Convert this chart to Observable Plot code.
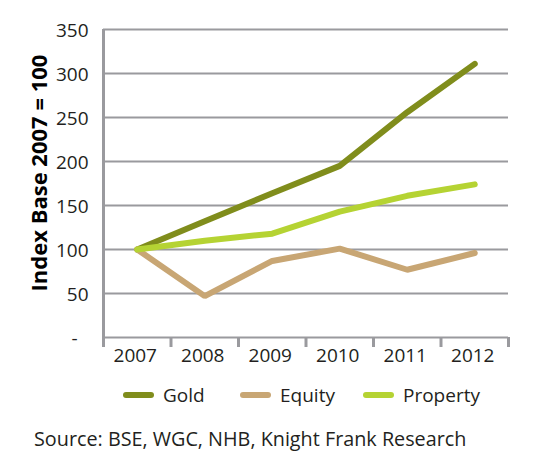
<!DOCTYPE html>
<html>
<head>
<meta charset="utf-8">
<script src="https://cdn.jsdelivr.net/npm/d3@7"></script>
<script src="https://cdn.jsdelivr.net/npm/@observablehq/plot@0.6"></script>
<style>
  html, body { margin: 0; padding: 0; background: #fff; }
  body { width: 546px; height: 458px; position: relative; font-family: "Open Sans", sans-serif; color: #231f20; overflow: hidden; }
  #chart { position: absolute; left: 0; top: 0; }
  #ytitle { position: absolute; left: 38px; top: 172.5px; transform: translate(-50%, -50%) rotate(-90deg); white-space: nowrap; font-weight: bold; font-size: 22px; color: #000; }
  #legend { position: absolute; top: 382px; left: 123px; display: flex; align-items: center; font-size: 19px; }
  .item { display: flex; align-items: center; }
  .item:nth-child(1) { width: 117px; }
  .item:nth-child(2) { width: 123px; }
  .sw { width: 31px; height: 6px; border-radius: 3px; margin-right: 9px; }
  #caption { position: absolute; left: 34px; top: 425px; font-size: 19.8px; white-space: nowrap; }
</style>
</head>
<body>
<div id="chart"></div>
<div id="ytitle"></div>
<div id="legend"></div>
<div id="caption"></div>
<script>
const years = [2007, 2008, 2009, 2010, 2011, 2012];
const gold = [100, 132, 164, 195, 256, 311];
const equity = [100, 47, 87, 101, 77, 96];
const property = [100, 110, 118, 143, 161, 174];
const seriesNames = ["Gold", "Equity", "Property"];
const seriesColors = ["#808d1c", "#c8a674", "#b5d333"];
const yTicks = [0, 50, 100, 150, 200, 250, 300, 350];
const yTitle = "Index Base 2007 = 100";
const caption = "Source: BSE, WGC, NHB, Knight Frank Research";

const seriesValues = [gold, equity, property];
const data = [];
seriesNames.forEach((name, i) => {
  years.forEach((yr, j) => data.push({series: name, year: yr, value: seriesValues[i][j]}));
});
const boundaries = [years[0] - 0.5, ...years.map(y => y + 0.5)];

const grid = "#9a9a9e";
const plot = Plot.plot({
  width: 546,
  height: 375,
  marginLeft: 103,
  marginRight: 38,
  marginTop: 29,
  marginBottom: 38,
  style: {fontFamily: "Open Sans, sans-serif", fontSize: "19px", color: "#231f20", background: "transparent"},
  x: {type: "linear", domain: [boundaries[0], boundaries[boundaries.length - 1]]},
  y: {domain: [0, 350]},
  color: {domain: seriesNames, range: seriesColors},
  marks: [
    Plot.gridY(yTicks, {stroke: grid, strokeOpacity: 1, strokeWidth: 2}),
    Plot.ruleX([boundaries[0]], {stroke: grid, strokeWidth: 3}),
    Plot.axisY({ticks: yTicks, tickSize: 0, tickPadding: 15, label: null, dy: 1.5,
      tickFormat: d => d === 0 ? "-\u2007" : String(d), fontSize: 19, fill: "#231f20"}),
    Plot.axisX({ticks: years, tickSize: 0, tickPadding: 11, label: null, dx: -2,
      tickFormat: d => String(d), fontSize: 19, fill: "#231f20"}),
    Plot.axisX({ticks: boundaries, tickSize: 10, tickFormat: () => "", label: null,
      stroke: grid, strokeWidth: 3}),
    Plot.line(data, {x: "year", y: "value", z: "series", stroke: "series",
      strokeWidth: 6, strokeLinecap: "round", strokeLinejoin: "miter"})
  ]
});
document.getElementById("chart").appendChild(plot);
document.getElementById("ytitle").textContent = yTitle;
document.getElementById("caption").textContent = caption;
const legend = document.getElementById("legend");
seriesNames.forEach((name, i) => {
  const it = document.createElement("div");
  it.className = "item";
  const sw = document.createElement("div");
  sw.className = "sw";
  sw.style.background = seriesColors[i];
  const t = document.createElement("span");
  t.textContent = name;
  it.appendChild(sw); it.appendChild(t);
  legend.appendChild(it);
});
</script>
</body>
</html>
